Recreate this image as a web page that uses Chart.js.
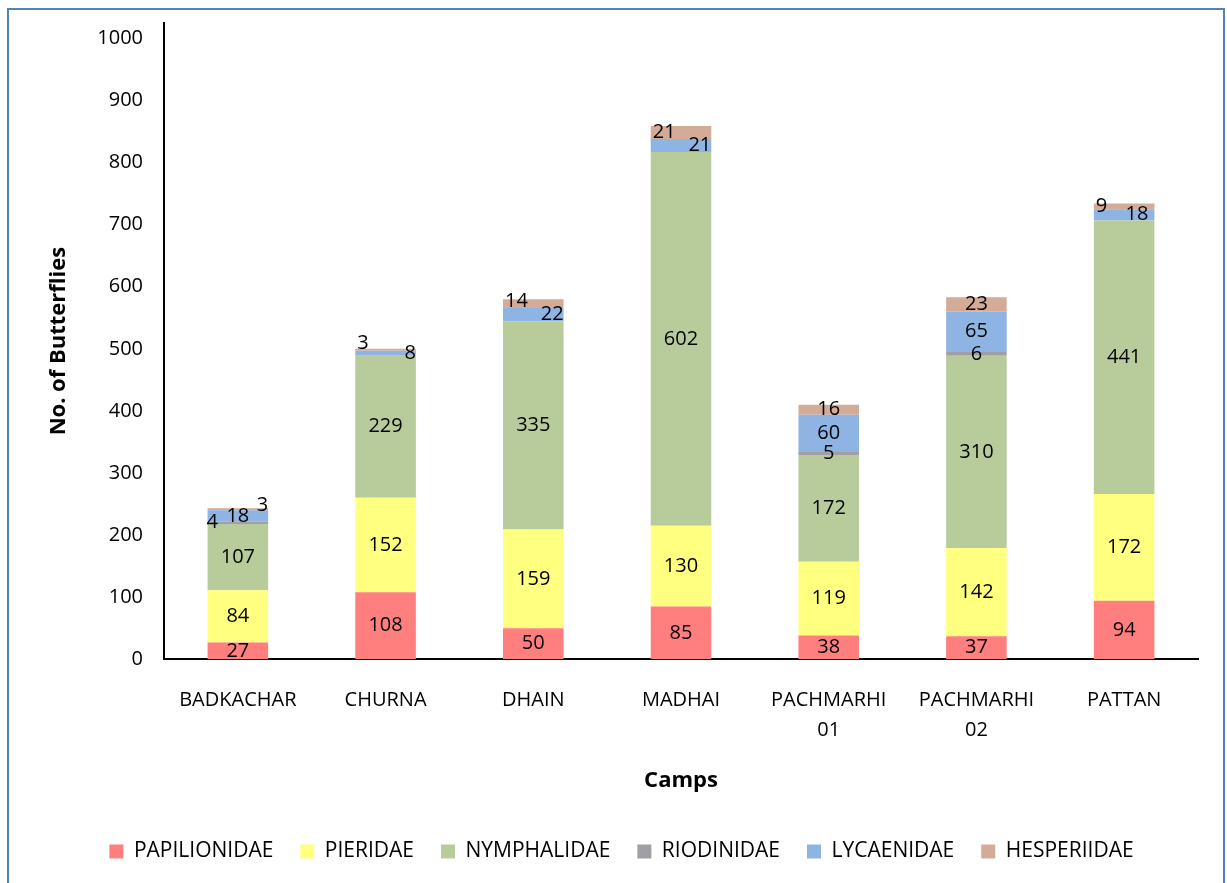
<!DOCTYPE html>
<html>
<head>
<meta charset="utf-8">
<script src="https://cdn.jsdelivr.net/npm/chart.js@4"></script>
<style>
  html, body { margin: 0; padding: 0; background: #fff; overflow: hidden; }
  #frame {
    position: absolute; left: 7px; top: 8px; width: 1214px; height: 900px;
    border: 2px solid #4f81bd;
  }
  #wrap { position: absolute; left: 0; top: 0; width: 1227px; height: 883px; }
</style>
</head>
<body>
<div id="frame"></div>
<div id="wrap"><canvas id="chartCanvas" width="1227" height="883"></canvas></div>
<script>
const camps = ['BADKACHAR', 'CHURNA', 'DHAIN', 'MADHAI', 'PACHMARHI 01', 'PACHMARHI 02', 'PATTAN'];
const families = ['PAPILIONIDAE', 'PIERIDAE', 'NYMPHALIDAE', 'RIODINIDAE', 'LYCAENIDAE', 'HESPERIIDAE'];

const papilionidae = [27, 108, 50, 85, 38, 37, 94];
const pieridae     = [84, 152, 159, 130, 119, 142, 172];
const nymphalidae  = [107, 229, 335, 602, 172, 310, 441];
const riodinidae   = [4, 0, 0, 0, 5, 6, 0];
const lycaenidae   = [18, 8, 22, 21, 60, 65, 18];
const hesperiidae  = [3, 3, 14, 21, 16, 23, 9];

const yTicks = [0, 100, 200, 300, 400, 500, 600, 700, 800, 900, 1000];

const colours = ['#ff7f7f', '#ffff80', '#b8cc9b', '#a19ea5', '#8eb4e3', '#d3ab96'];

// where the small crowded labels sit (like the Excel original)
const labelAlign = {
  0: { RIODINIDAE: { align: 'left', dx: -3 }, HESPERIIDAE: { align: 'right', dy: -4 } },
  1: { HESPERIIDAE: { align: 'left', dy: -6 }, LYCAENIDAE: { align: 'right' } },
  2: { HESPERIIDAE: { align: 'left', dy: -2 }, LYCAENIDAE: { align: 'right' } },
  3: { HESPERIIDAE: { align: 'left' }, LYCAENIDAE: { align: 'right' } },
  6: { HESPERIIDAE: { align: 'left' }, LYCAENIDAE: { align: 'right', dx: -6 } }
};

const FONT = 'Open Sans';

const series = [papilionidae, pieridae, nymphalidae, riodinidae, lycaenidae, hesperiidae];

const barLabels = {
  id: 'barLabels',
  afterDatasetsDraw(chart) {
    const ctx = chart.ctx;
    ctx.save();
    ctx.font = '20px "' + FONT + '"';
    ctx.fillStyle = '#000';
    ctx.textBaseline = 'middle';
    chart.data.datasets.forEach((ds, di) => {
      const meta = chart.getDatasetMeta(di);
      meta.data.forEach((bar, i) => {
        const v = ds.data[i];
        if (!v) return;
        const cfg = (labelAlign[i] && labelAlign[i][ds.label]) || { align: 'center' };
        let x = bar.x;
        if (cfg.align === 'left') x = bar.x - bar.width / 2 + 2;
        if (cfg.align === 'right') x = bar.x + bar.width / 2;
        x += cfg.dx || 0;
        const y = (bar.y + bar.base) / 2 + (cfg.dy || 0);
        ctx.textAlign = cfg.align;
        ctx.fillText(String(v), x, y);
      });
    });
    ctx.restore();
  }
};

const ctx = document.getElementById('chartCanvas').getContext('2d');

const chart = new Chart(ctx, {
  type: 'bar',
  data: {
    labels: camps.map(c => c.split(' ')),
    datasets: families.map((f, k) => ({
      label: f,
      data: series[k],
      backgroundColor: colours[k],
      borderWidth: 0,
      barPercentage: 0.41,
      categoryPercentage: 1
    }))
  },
  options: {
    responsive: false,
    animation: false,
    layout: { padding: { top: 23, right: 29, left: 45, bottom: 11 } },
    plugins: {
      tooltip: { enabled: false },
      legend: {
        position: 'bottom',
        labels: {
          color: '#000',
          font: { family: FONT, size: 21 },
          boxWidth: 14,
          boxHeight: 14,
          padding: 27
        }
      }
    },
    scales: {
      x: {
        stacked: true,
        grid: { display: false, drawTicks: false },
        border: { display: true, color: '#000', width: 2 },
        ticks: {
          color: '#000',
          font: { family: FONT, size: 20, lineHeight: 1.5 },
          padding: 26,
          maxRotation: 0,
          autoSkip: false
        },
        title: {
          display: true,
          text: 'Camps',
          color: '#000',
          font: { family: FONT, size: 22, weight: 'bold', lineHeight: 0.9 },
          padding: { top: 0, bottom: 23 }
        }
      },
      y: {
        stacked: true,
        min: 0,
        max: 1025,
        grid: { display: false, drawTicks: false },
        border: { display: true, color: '#000', width: 2 },
        afterBuildTicks(scale) {
          scale.ticks = yTicks.map(v => ({ value: v }));
        },
        afterFit(scale) {
          scale.width = 119;
          scale.paddingTop = 0;
        },
        ticks: {
          color: '#000',
          font: { family: FONT, size: 20 },
          padding: 21,
          callback: v => String(v)
        },
        title: {
          display: true,
          text: 'No. of Butterflies',
          color: '#000',
          font: { family: FONT, size: 22, weight: 'bold' },
          padding: { top: 1, bottom: 0 }
        }
      }
    }
  },
  plugins: [barLabels]
});
</script>
</body>
</html>
